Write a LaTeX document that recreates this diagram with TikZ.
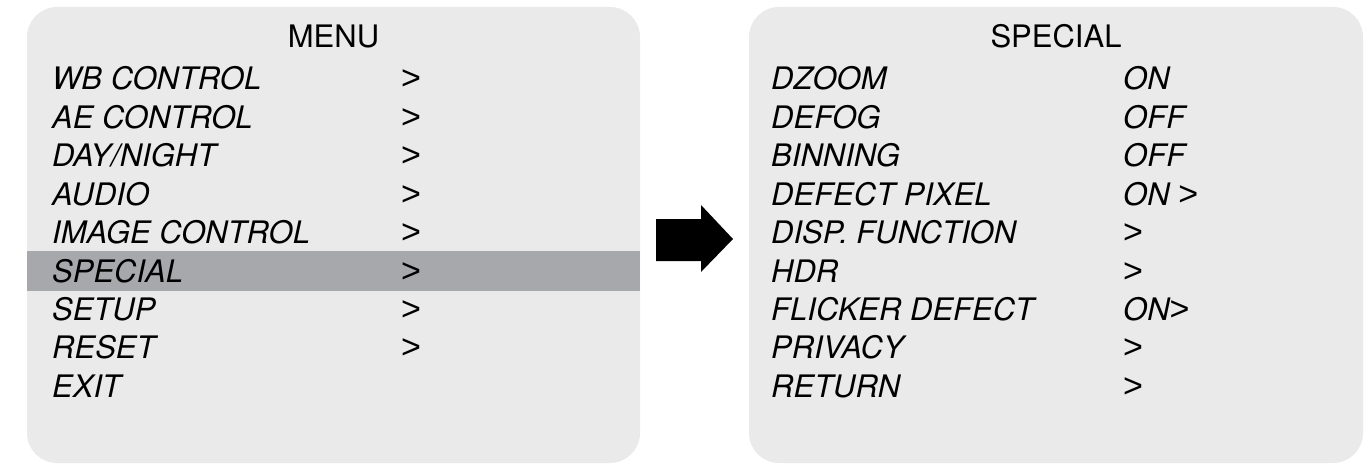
\documentclass[tikz,border=0pt]{standalone}
\usepackage{fontspec}
\setmainfont{TeX Gyre Heros}
\newfontfamily\gtfamily{Liberation Sans}
\newcommand{\gtsym}{{\gtfamily\upshape\fontsize{34}{37}\selectfont >}}
\begin{document}
\begin{tikzpicture}[x=1pt,y=-1pt,
  panel/.style={fill=panelgray,draw=none,rounded corners=30pt},
  itemtxt/.style={anchor=base west,inner sep=0pt,font=\fontsize{31}{37}\selectfont\itshape},
  headtxt/.style={anchor=base,inner sep=0pt,font=\fontsize{31}{37}\selectfont}]
\definecolor{panelgray}{RGB}{234,234,234}
\definecolor{bargray}{RGB}{167,168,171}
\useasboundingbox (0,0) rectangle (1370,465);
% panels
\fill[panel] (27,7) rectangle (640,463);
\fill[panel] (749,7) rectangle (1363,463);
% highlight bar
\fill[bargray] (27,251) rectangle (640,291);
% arrow
\fill[black] (656,219) -- (701,219) -- (701,205) -- (733,239) -- (701,272) -- (701,261) -- (656,261) -- cycle;
% left menu
\node[headtxt] (menu) at (333.5,48) {MENU};
\node[itemtxt] (l1) at (52,90) {WB CONTROL};
\node[itemtxt] (l2) at (52,128.4) {AE CONTROL};
\node[itemtxt] (l3) at (52,166.8) {DAY/NIGHT};
\node[itemtxt] (l4) at (52,205.2) {AUDIO};
\node[itemtxt] (l5) at (52,243.6) {IMAGE CONTROL};
\node[itemtxt] (l6) at (52,282) {SPECIAL};
\node[itemtxt] (l7) at (52,320.4) {SETUP};
\node[itemtxt] (l8) at (52,358.8) {RESET};
\node[itemtxt] (l9) at (52,397.2) {EXIT};
\node[itemtxt] (g1) at (401,90) {\gtsym};
\node[itemtxt] (g2) at (401,128.4) {\gtsym};
\node[itemtxt] (g3) at (401,166.8) {\gtsym};
\node[itemtxt] (g4) at (401,205.2) {\gtsym};
\node[itemtxt] (g5) at (401,243.6) {\gtsym};
\node[itemtxt] (g6) at (401,282) {\gtsym};
\node[itemtxt] (g7) at (401,320.4) {\gtsym};
\node[itemtxt] (g8) at (401,358.8) {\gtsym};
% right menu
\node[headtxt] (special) at (1056,48) {SPECIAL};
\node[itemtxt] (r1) at (771,90) {DZOOM};
\node[itemtxt] (r2) at (771,128.4) {DEFOG};
\node[itemtxt] (r3) at (771,166.8) {BINNING};
\node[itemtxt] (r4) at (771,205.2) {DEFECT PIXEL};
\node[itemtxt] (r5) at (771,243.6) {DISP. FUNCTION};
\node[itemtxt] (r6) at (771,282) {HDR};
\node[itemtxt] (r7) at (771,320.4) {FLICKER DEFECT};
\node[itemtxt] (r8) at (771,358.8) {PRIVACY};
\node[itemtxt] (r9) at (771,397.2) {RETURN};
\node[itemtxt] (v1) at (1123,90) {ON};
\node[itemtxt] (v2) at (1123,128.4) {OFF};
\node[itemtxt] (v3) at (1123,166.8) {OFF};
\node[itemtxt] (v4) at (1123,205.2) {ON \gtsym};
\node[itemtxt] (v5) at (1123,243.6) {\gtsym};
\node[itemtxt] (v6) at (1123,282) {\gtsym};
\node[itemtxt] (v7) at (1123,320.4) {ON\gtsym};
\node[itemtxt] (v8) at (1123,358.8) {\gtsym};
\node[itemtxt] (v9) at (1123,397.2) {\gtsym};
\end{tikzpicture}
\end{document}
